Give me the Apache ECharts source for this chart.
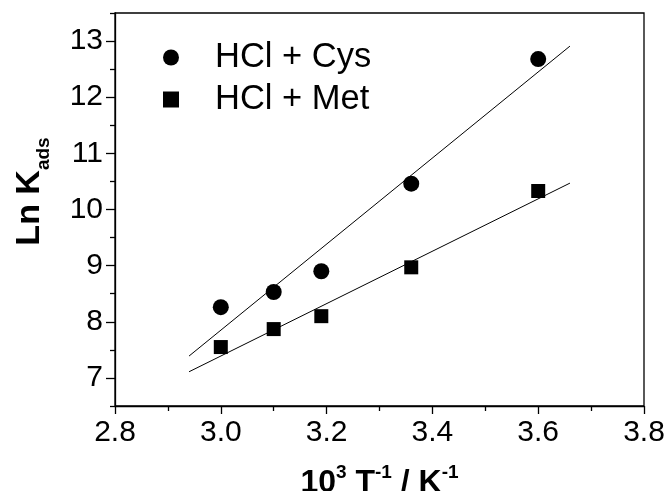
<!DOCTYPE html>
<html>
<head>
<meta charset="utf-8">
<script src="https://cdn.jsdelivr.net/npm/echarts@6/dist/echarts.min.js"></script>
<style>html,body{margin:0;padding:0;background:#fff}#c{width:667px;height:491px}</style>
</head>
<body>
<div id="c"></div>
<script>
// Data
var xValues = [3.00, 3.10, 3.19, 3.36, 3.60];
var cysValues = [8.26, 8.53, 8.90, 10.46, 12.68];
var metValues = [7.55, 7.87, 8.10, 8.97, 10.33];
var fitX = [2.94, 3.66];
var cysFitY = [7.39, 12.91];
var metFitY = [7.11, 10.47];
var yMajorTicks = [7, 8, 9, 10, 11, 12, 13];
var yMinorTicks = [6.5, 7.5, 8.5, 9.5, 10.5, 11.5, 12.5, 13.5];
var seriesNames = ['HCl + Cys', 'HCl + Met'];

function pairs(xs, ys) { return xs.map(function (x, i) { return [x, ys[i]]; }); }

var FONT = 'Liberation Sans, Arial, sans-serif';
var chart = echarts.init(document.getElementById('c'), null, { renderer: 'canvas' });
var axisCommonLine = { lineStyle: { color: '#000', width: 1.3 } };

chart.setOption({
  animation: false,
  backgroundColor: '#fff',
  grid: { left: 115, right: 23, top: 13, bottom: 85, containLabel: false, outerBoundsMode: 'none', show: true, borderColor: '#000', borderWidth: 1.3, backgroundColor: 'transparent' },
  legend: {
    data: seriesNames,
    orient: 'vertical',
    left: 158,
    top: 35,
    itemWidth: 16,
    itemHeight: 16,
    itemGap: 7,
    textStyle: { fontFamily: FONT, fontSize: 34.5, color: '#000', padding: [0, 0, 0, 31], lineHeight: 35 }
  },
  xAxis: {
    type: 'value', min: 2.8, max: 3.8, interval: 0.2,
    axisLine: axisCommonLine,
    axisTick: { length: 8, lineStyle: { color: '#000', width: 1.3 } },
    minorTick: { show: true, splitNumber: 2, length: 5, lineStyle: { color: '#000', width: 1.3 } },
    splitLine: { show: false },
    axisLabel: { fontFamily: FONT, fontSize: 30, color: '#000', margin: 12, formatter: function (v) { return v.toFixed(1); } },
    name: '{b|10}{sup|3}{b| T}{sup|-1}{b| / K}{sup|-1}',
    nameLocation: 'middle',
    nameGap: 57,
    nameTextStyle: {
      rich: {
        b: { fontFamily: FONT, fontSize: 32, fontWeight: 'bold', color: '#000', lineHeight: 36, verticalAlign: 'bottom' },
        sup: { fontFamily: FONT, fontSize: 19, fontWeight: 'bold', color: '#000', lineHeight: 36, verticalAlign: 'top' }
      }
    }
  },
  yAxis: [{
    type: 'value', min: 6.5, max: 13.5,
    axisLine: axisCommonLine,
    axisTick: { length: 9, customValues: yMajorTicks, lineStyle: { color: '#000', width: 1.3 } },
    splitLine: { show: false },
    axisLabel: { fontFamily: FONT, fontSize: 30, color: '#000', margin: 12, customValues: yMajorTicks },
    name: '{b|Ln K}{sub|ads}',
    nameLocation: 'middle',
    nameGap: 62,
    nameTextStyle: {
      padding: [0, 0, 0, 36],
      rich: {
        b: { fontFamily: FONT, fontSize: 34, fontWeight: 'bold', color: '#000', lineHeight: 40, verticalAlign: 'top' },
        sub: { fontFamily: FONT, fontSize: 19, fontWeight: 'bold', color: '#000', lineHeight: 40, verticalAlign: 'bottom' }
      }
    }
  }, {
    type: 'value', min: 6.5, max: 13.5, position: 'left',
    axisLine: { show: false },
    axisTick: { length: 5, customValues: yMinorTicks, lineStyle: { color: '#000', width: 1.3 } },
    splitLine: { show: false },
    axisLabel: { show: false }
  }],
  series: [
    { name: seriesNames[0], type: 'scatter', symbol: 'circle', symbolSize: 16, itemStyle: { color: '#000', opacity: 1 }, data: pairs(xValues, cysValues), z: 3 },
    { name: seriesNames[1], type: 'scatter', symbol: 'rect', symbolSize: 14, itemStyle: { color: '#000', opacity: 1 }, data: pairs(xValues, metValues), z: 3 },
    { type: 'line', data: pairs(fitX, cysFitY), showSymbol: false, symbol: 'none', lineStyle: { color: '#000', width: 1 }, z: 2 },
    { type: 'line', data: pairs(fitX, metFitY), showSymbol: false, symbol: 'none', lineStyle: { color: '#000', width: 1 }, z: 2 }
  ]
});
</script>
</body>
</html>
